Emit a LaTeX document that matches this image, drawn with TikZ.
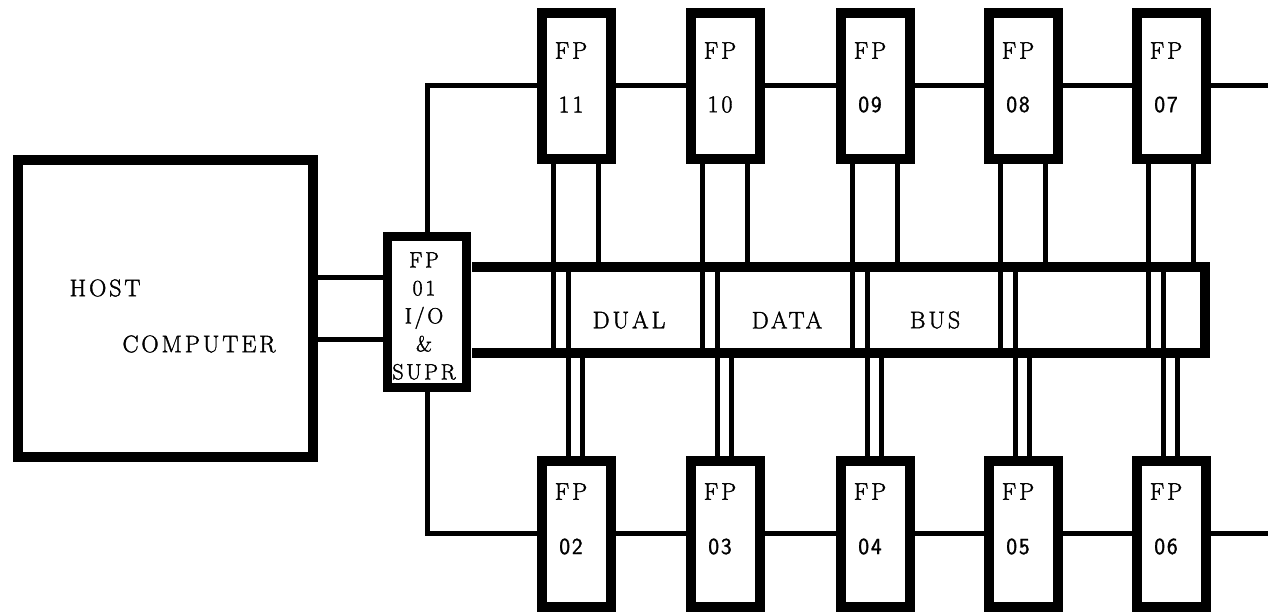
\documentclass[tikz,border=0pt]{standalone}
\usepackage{fontspec}
\setmainfont{Latin Modern Roman}[LetterSpace=12, FakeBold=1.6]
\setsansfont{Latin Modern Sans}[LetterSpace=8, FakeBold=1.2]
\tikzset{
  fpbox/.style={draw, line width=10pt, minimum width=69pt, minimum height=146pt, inner sep=0pt},
  link/.style={line width=5pt},
  bus/.style={line width=10pt},
  lbl/.style={font=\fontsize{24}{28}\selectfont, inner sep=0pt},
  num/.style={inner sep=0pt, font=\sffamily\fontsize{23}{27}\selectfont}
}
\begin{document}
\begin{tikzpicture}[x=1pt,y=-1pt]
                \useasboundingbox (0,0) rectangle (1268,613);
                % host and supervisor
                \node[draw, line width=10pt, minimum width=295pt, minimum height=297pt] (host) at (165.5,308.5) {};
                \node[lbl] (hostA) at (105,288) {HOST};
                \node[lbl] (hostB) at (199,344) {COMPUTER};
                \node[draw, line width=9pt, minimum width=79.5pt, minimum height=151pt] (fp01) at (427,311.5) {};
                \node[lbl, align=center, font=\fontsize{22}{28}\selectfont] (fp01txt) at (424,316) {FP\\01\\I/O\\\&\\SUPR};
                % upper row
                \node[fpbox] (fp11) at (576,85.5) {};
                \node[fpbox] (fp10) at (725,85.5) {};
                \node[fpbox] (fp09) at (875,85.5) {};
                \node[fpbox] (fp08) at (1023,85.5) {};
                \node[fpbox] (fp07) at (1171,85.5) {};
                \path (fp11.center) ++(-5,-35) node[lbl] (t11) {FP} ++(0,54) node[lbl] (n11) {11};
                \path (fp10.center) ++(-5,-35) node[lbl] (t10) {FP} ++(0,54) node[lbl] (n10) {10};
                \path (fp09.center) ++(-5,-35) node[lbl] (t09) {FP} ++(0,54) node[num] (n09) {09};
                \path (fp08.center) ++(-5,-35) node[lbl] (t08) {FP} ++(0,54) node[num] (n08) {08};
                \path (fp07.center) ++(-5,-35) node[lbl] (t07) {FP} ++(0,54) node[num] (n07) {07};
                % lower row
                \node[fpbox] (fp02) at (576,533.5) {};
                \node[fpbox] (fp03) at (725,533.5) {};
                \node[fpbox] (fp04) at (875,533.5) {};
                \node[fpbox] (fp05) at (1023,533.5) {};
                \node[fpbox] (fp06) at (1171,533.5) {};
                \path (fp02.center) ++(-5,-42) node[lbl] (t02) {FP} ++(0,55) node[num] (n02) {02};
                \path (fp03.center) ++(-5,-42) node[lbl] (t03) {FP} ++(0,55) node[num] (n03) {03};
                \path (fp04.center) ++(-5,-42) node[lbl] (t04) {FP} ++(0,55) node[num] (n04) {04};
                \path (fp05.center) ++(-5,-42) node[lbl] (t05) {FP} ++(0,55) node[num] (n05) {05};
                \path (fp06.center) ++(-5,-42) node[lbl] (t06) {FP} ++(0,55) node[num] (n06) {06};
                % dual data bus
                \coordinate (busT) at (472,267);
                \coordinate (busB) at (472,353);
                \coordinate (busR) at (1205,310);
                \draw[bus] (busT) -- (busT -| busR) -- (busB -| busR) -- (busB);
                \node[lbl] (dual) at (629,320) {DUAL};
                \node[lbl] (data) at (787,320) {DATA};
                \node[lbl] (busname) at (935,320) {BUS};
                % host to supervisor
                \draw[link] ([yshift=31.5pt]host.east) -- ([yshift=31.5pt]host.east -| fp01.west);
                \draw[link] ([yshift=-30.5pt]host.east) -- ([yshift=-30.5pt]host.east -| fp01.west);
                % ring lines
                \coordinate (out07) at (1268,85.5);
                \coordinate (out06) at (1268,533.5);
                \draw[link] (fp01.north) -- (fp01.north |- fp11.west) -- (fp11.west);
                \draw[link] (fp11.east) -- (fp10.west);
                \draw[link] (fp10.east) -- (fp09.west);
                \draw[link] (fp09.east) -- (fp08.west);
                \draw[link] (fp08.east) -- (fp07.west);
                \draw[link] (fp07.east) -- (out07);
                \draw[link] (fp01.south) -- (fp01.south |- fp02.west) -- (fp02.west);
                \draw[link] (fp02.east) -- (fp03.west);
                \draw[link] (fp03.east) -- (fp04.west);
                \draw[link] (fp04.east) -- (fp05.west);
                \draw[link] (fp05.east) -- (fp06.west);
                \draw[link] (fp06.east) -- (out06);
                % taps onto the bus
                \draw[link] ([xshift=-23pt]fp11.south) -- ([xshift=-23pt]fp11.south |- busB);
                \draw[link] ([xshift=22pt]fp11.south) -- ([xshift=22pt]fp11.south |- busT);
                \draw[link] ([xshift=-23pt]fp10.south) -- ([xshift=-23pt]fp10.south |- busB);
                \draw[link] ([xshift=22pt]fp10.south) -- ([xshift=22pt]fp10.south |- busT);
                \draw[link] ([xshift=-23pt]fp09.south) -- ([xshift=-23pt]fp09.south |- busB);
                \draw[link] ([xshift=22pt]fp09.south) -- ([xshift=22pt]fp09.south |- busT);
                \draw[link] ([xshift=-23pt]fp08.south) -- ([xshift=-23pt]fp08.south |- busB);
                \draw[link] ([xshift=22pt]fp08.south) -- ([xshift=22pt]fp08.south |- busT);
                \draw[link] ([xshift=-23pt]fp07.south) -- ([xshift=-23pt]fp07.south |- busB);
                \draw[link] ([xshift=22pt]fp07.south) -- ([xshift=22pt]fp07.south |- busT);
                \draw[link] ([xshift=-8pt]fp02.north) -- ([xshift=-8pt]fp02.north |- busT);
                \draw[link] ([xshift=6pt]fp02.north) -- ([xshift=6pt]fp02.north |- busB);
                \draw[link] ([xshift=-8pt]fp03.north) -- ([xshift=-8pt]fp03.north |- busT);
                \draw[link] ([xshift=6pt]fp03.north) -- ([xshift=6pt]fp03.north |- busB);
                \draw[link] ([xshift=-8pt]fp04.north) -- ([xshift=-8pt]fp04.north |- busT);
                \draw[link] ([xshift=6pt]fp04.north) -- ([xshift=6pt]fp04.north |- busB);
                \draw[link] ([xshift=-8pt]fp05.north) -- ([xshift=-8pt]fp05.north |- busT);
                \draw[link] ([xshift=6pt]fp05.north) -- ([xshift=6pt]fp05.north |- busB);
                \draw[link] ([xshift=-8pt]fp06.north) -- ([xshift=-8pt]fp06.north |- busT);
                \draw[link] ([xshift=6pt]fp06.north) -- ([xshift=6pt]fp06.north |- busB);
            \end{tikzpicture}
\end{document}
